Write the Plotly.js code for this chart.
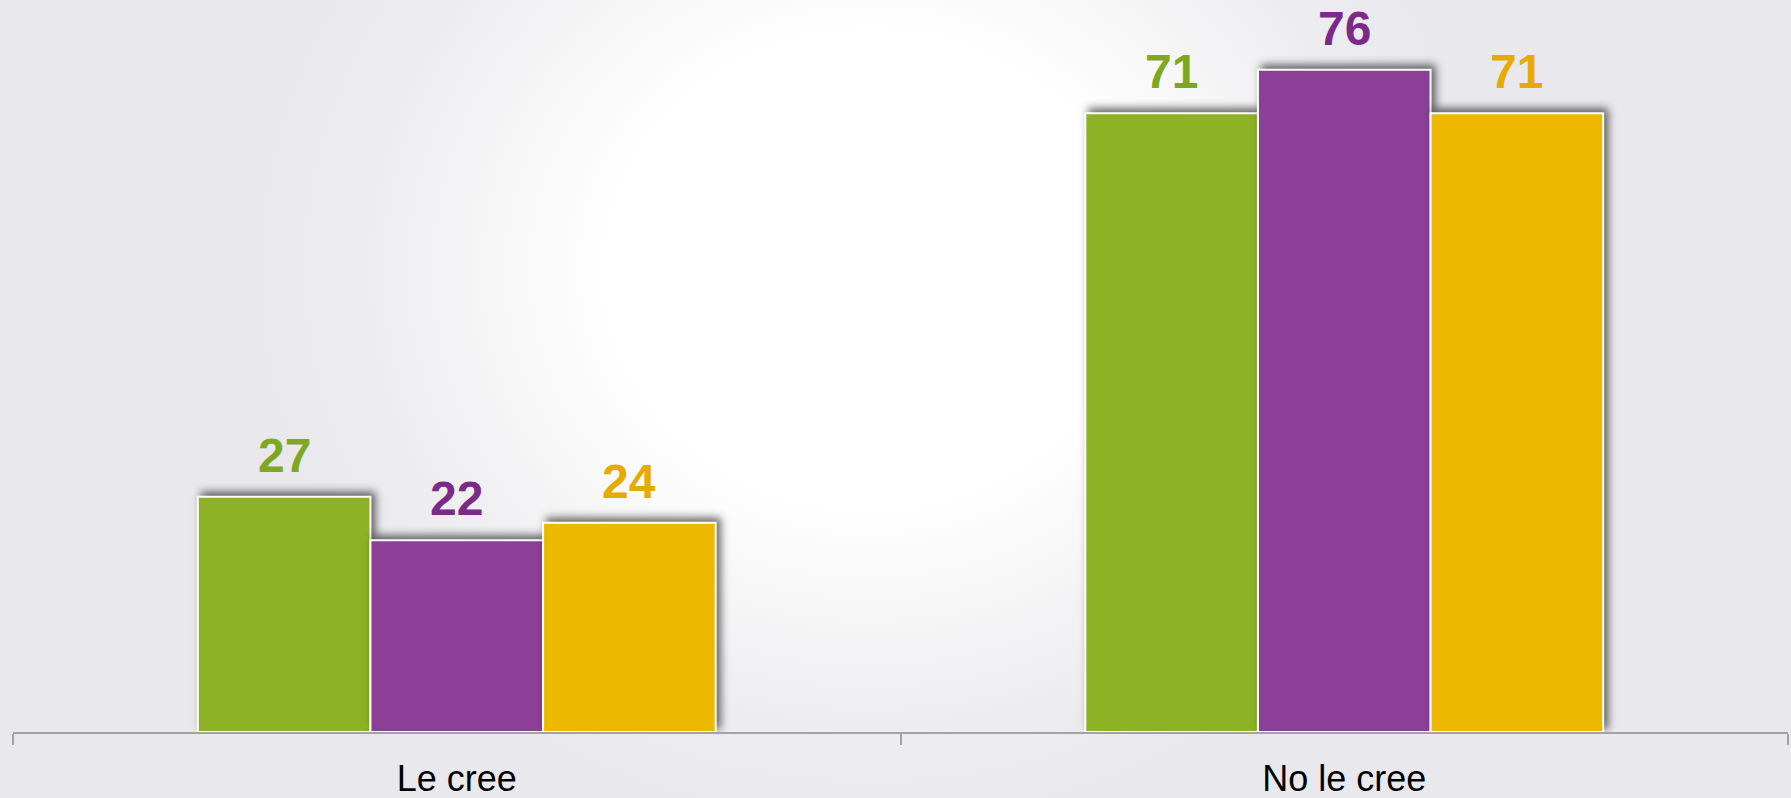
<!DOCTYPE html>
<html>
<head>
<meta charset="utf-8">
<script src="https://cdn.plot.ly/plotly-3.0.1.min.js"></script>
<style>
  html, body { margin: 0; padding: 0; }
  body {
    width: 1791px; height: 798px; overflow: hidden;
    background: radial-gradient(ellipse 620px 560px at 870px 270px,
      #ffffff 0%, #ffffff 42%, #f6f6f7 62%, #eeeef1 80%, #e9e9ed 100%);
  }
  #chart { width: 1791px; height: 798px; }
  .barlayer .trace.bars { filter: drop-shadow(4px -4px 4px rgba(0,0,0,0.6)); }
</style>
</head>
<body>
<div id="chart"></div>
<script>
// ---- data ----
const categories = ["Le cree", "No le cree"];
const seriesNames = ["Serie 1", "Serie 2", "Serie 3"];
const serie1 = [27, 71];
const serie2 = [22, 76];
const serie3 = [24, 71];
const barColors = ["#8db226", "#8c3f97", "#ecb900"];
const labelColors = ["#7ea822", "#7b2b87", "#e6aa00"];

const allSeries = [serie1, serie2, serie3];
const bargap = 0.4165;
const barWidth = (1 - bargap) / allSeries.length;

const traces = allSeries.map((vals, i) => ({
  type: "bar",
  name: seriesNames[i],
  x: categories,
  y: vals,
  marker: { color: barColors[i], line: { color: "#ffffff", width: 2 } },
  hoverinfo: "none"
}));

const annotations = [];
allSeries.forEach((vals, i) => {
  vals.forEach((v, j) => {
    annotations.push({
      xref: "x", yref: "y",
      x: j + (i - (allSeries.length - 1) / 2) * barWidth,
      y: v,
      text: String(v),
      showarrow: false,
      yanchor: "bottom",
      yshift: 13,
      font: { family: "Liberation Sans, Arial, sans-serif", size: 48, color: labelColors[i], weight: "bold" }
    });
  });
});

const layout = {
  width: 1791, height: 798,
  margin: { l: 13, r: 3, t: 0, b: 66 },
  paper_bgcolor: "rgba(0,0,0,0)",
  plot_bgcolor: "rgba(0,0,0,0)",
  barmode: "group",
  bargap: bargap,
  bargroupgap: 0,
  showlegend: false,
  xaxis: {
    type: "category",
    showline: true, linecolor: "#a3a3a3", linewidth: 2,
    ticks: "outside", tickson: "boundaries", ticklen: 11, tickwidth: 2, tickcolor: "#a3a3a3",
    ticklabelstandoff: 14,
    showgrid: false, zeroline: false,
    tickfont: { family: "Liberation Sans, Arial, sans-serif", size: 36, color: "#000000" }
  },
  yaxis: { visible: false, range: [0, 84], showgrid: false, zeroline: false },
  annotations: annotations
};

Plotly.newPlot("chart", traces, layout, { staticPlot: true });
</script>
</body>
</html>
